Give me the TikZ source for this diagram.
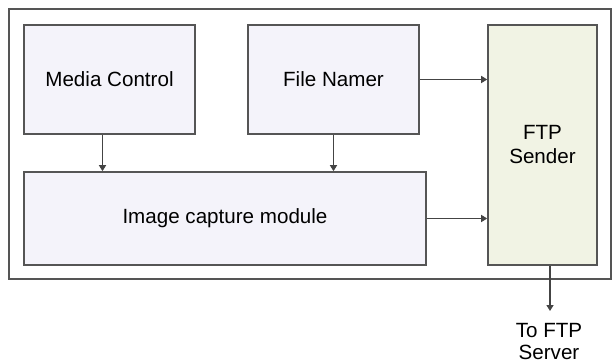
\documentclass[tikz,border=0pt]{standalone}
\usepackage{fontspec}
\setmainfont{Liberation Sans}
\usetikzlibrary{arrows.meta}

\definecolor{boxfill}{RGB}{244,243,250}
\definecolor{senderfill}{RGB}{241,243,228}
\definecolor{edgegray}{RGB}{85,85,85}

\begin{document}
\begin{tikzpicture}[x=0.5pt,y=-0.5pt,
    font=\fontsize{10.3}{12}\selectfont,
    module/.style={draw=edgegray, line width=0.8pt, fill=boxfill, align=center, inner sep=0pt},
    arr/.style={-{Triangle[length=3pt,width=3.5pt]}, draw=edgegray!80!black, line width=0.7pt}]
  \useasboundingbox (0,0) rectangle (613,362);

  % Outer frame
  \draw[edgegray, line width=1pt] (9,9) rectangle (611,279);

  % Modules
  \node[module, minimum width=85.5pt, minimum height=54.5pt] (media) at (109.5,79.5) {Media Control};
  \node[module, minimum width=85.5pt, minimum height=54.5pt] (namer) at (333.5,79.5) {File Namer};
  \node[module, minimum width=201pt, minimum height=46.5pt] (capture) at (225,218.5) {Image capture module};
  \node[module, fill=senderfill, minimum width=54.5pt, minimum height=120pt] (ftp) at (542.5,145) {FTP\\Sender};

  % Output to the server
  \coordinate (srv) at (550,311);
  \node[align=center, inner sep=0pt, font=\fontsize{10.3}{11}\selectfont] (server) at (549,342) {To FTP\\Server};

  % Connectors
  \draw[arr] ([xshift=-3.5pt]media.south) -- ([xshift=-3.5pt]media.south |- capture.north);
  \draw[arr] (namer.south) -- (namer.south |- capture.north);
  \draw[arr] (namer.east) -- (namer.east -| ftp.west);
  \draw[arr] (capture.east) -- (capture.east -| ftp.west);
  \draw[arr] (ftp.south -| srv) -- (srv);
\end{tikzpicture}
\end{document}
